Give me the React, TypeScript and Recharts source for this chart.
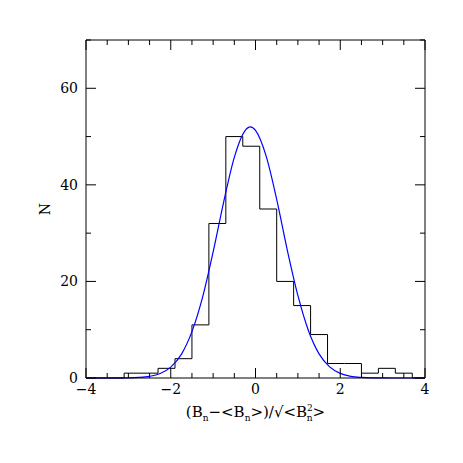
import React from 'react';
import { LineChart, Line, XAxis, YAxis } from 'recharts';

// histogram: left bin edges and counts (stepAfter)
const binEdges = [-4, -3.1, -2.7, -2.3, -1.9, -1.5, -1.1, -0.7, -0.3, 0.1, 0.5, 0.9, 1.3, 1.7, 2.1, 2.5, 2.9, 3.3, 3.7, 4];
const binCounts = [0, 1, 1, 2, 4, 11, 32, 50, 48, 35, 20, 15, 9, 3, 3, 1, 2, 1, 0, 0];

// fitted curve
const fitX = [-4, -3.5, -3, -2.75, -2.5, -2.25, -2, -1.75, -1.5, -1.25, -1, -0.75, -0.5, -0.25, -0.12, 0, 0.25, 0.5, 0.75, 1, 1.25, 1.5, 1.75, 2, 2.25, 2.5, 2.75, 3, 3.5, 4];
const fitY = [0, 0, 0.03, 0.11, 0.34, 0.92, 2.25, 4.9, 9.6, 16.7, 26.1, 36.5, 45.7, 51.2, 52, 51.3, 46.0, 37.0, 26.5, 17.1, 9.8, 5.0, 2.3, 0.96, 0.35, 0.12, 0.03, 0.01, 0, 0];

const xTicks = [-4, -3.5, -3, -2.5, -2, -1.5, -1, -0.5, 0, 0.5, 1, 1.5, 2, 2.5, 3, 3.5, 4];
const xLabels = [-4, -2, 0, 2, 4];
const yTicks = [0, 10, 20, 30, 40, 50, 60, 70];
const yLabels = [0, 20, 40, 60];

const histData = binEdges.map((x, i) => ({ x, y: binCounts[i] }));
const fitData = fitX.map((x, i) => ({ x, y: fitY[i] }));

const W = 455;
const H = 455;
const M = { top: 31, right: 37, bottom: 45, left: 0 };
const TOP_AXIS_H = 1;
const BOTTOM_AXIS_H = 40;
const PLOT_H = H - M.top - M.bottom - TOP_AXIS_H - BOTTOM_AXIS_H;

const FONT = '"DejaVu Serif", serif';
const fmt = (v: number) => (v < 0 ? '\u2212' + Math.abs(v) : String(v));

const BottomTick = (props: any) => {
  const { x, y, payload } = props;
  const major = xLabels.includes(payload.value);
  if (!major) return <g />;
  return (
    <text x={x} y={y + 16} textAnchor="middle" fontSize={14} fontFamily={FONT} fill="#000">
      {fmt(payload.value)}
    </text>
  );
};

// inward ticks for both the top and bottom edges of the frame
const TopTick = (props: any) => {
  const { x, y, payload } = props;
  const len = xLabels.includes(payload.value) ? 10 : 5;
  const yt = Number(y);
  const yb = yt + PLOT_H;
  return (
    <g>
      <line x1={x} y1={yt} x2={x} y2={yt + len} stroke="#000" />
      <line x1={x} y1={yb} x2={x} y2={yb - len} stroke="#000" />
    </g>
  );
};

const LeftTick = (props: any) => {
  const { x, y, payload } = props;
  const major = yLabels.includes(payload.value);
  return (
    <g>
      <line x1={x} y1={y} x2={x + (major ? 10 : 5)} y2={y} stroke="#000" />
      {major && (
        <text x={x - 8} y={y + 5} textAnchor="end" fontSize={14} fontFamily={FONT} fill="#000">
          {payload.value}
        </text>
      )}
    </g>
  );
};

const RightTick = (props: any) => {
  const { x, y, payload } = props;
  const major = yLabels.includes(payload.value);
  return <line x1={x} y1={y} x2={x - (major ? 10 : 5)} y2={y} stroke="#000" />;
};

const XTitle = (props: any) => {
  const vb = props.viewBox;
  const cx = vb.x + vb.width / 2;
  return (
    <text x={cx} y={vb.y + 39} textAnchor="middle" fontSize={15} fontFamily={FONT} fill="#000">
      <tspan>(B</tspan>
      <tspan dy={4} fontSize={9}>n</tspan>
      <tspan dy={-4}>{'\u2212<B'}</tspan>
      <tspan dy={4} fontSize={9}>n</tspan>
      <tspan dy={-4}>{'>)/\u221A<B'}</tspan>
      <tspan dy={-6} fontSize={9}>2</tspan>
      <tspan dx={-6} dy={10} fontSize={9}>n</tspan>
      <tspan dy={-4}>{'>'}</tspan>
    </text>
  );
};

const YTitle = (props: any) => {
  const vb = props.viewBox;
  const x = vb.x + 42;
  const y = vb.y + vb.height / 2;
  return (
    <text x={x} y={y} textAnchor="middle" fontSize={14} fontFamily={FONT} fill="#000" transform={`rotate(-90 ${x} ${y})`}>
      N
    </text>
  );
};

export default function App() {
  return (
    <LineChart width={W} height={H} margin={M}>
      <XAxis
        xAxisId="top"
        orientation="top"
        dataKey="x"
        type="number"
        domain={[-4, 4]}
        ticks={xTicks}
        interval={0}
        tickSize={0}
        tickMargin={0}
        tick={<TopTick />}
        axisLine={{ stroke: '#000' }}
        height={TOP_AXIS_H}
      />
      <YAxis
        yAxisId="right"
        orientation="right"
        type="number"
        domain={[0, 70]}
        ticks={yTicks}
        interval={0}
        tickSize={0}
        tickMargin={0}
        tick={<RightTick />}
        axisLine={{ stroke: '#000' }}
        width={1}
      />
      <YAxis
        type="number"
        domain={[0, 70]}
        ticks={yTicks}
        interval={0}
        tickSize={0}
        tickMargin={0}
        tick={<LeftTick />}
        axisLine={{ stroke: '#000' }}
        width={78}
        label={<YTitle />}
      />
      <XAxis
        dataKey="x"
        type="number"
        domain={[-4, 4]}
        ticks={xTicks}
        interval={0}
        tickSize={0}
        tickMargin={0}
        tick={<BottomTick />}
        axisLine={{ stroke: '#000' }}
        height={BOTTOM_AXIS_H}
        label={<XTitle />}
      />
      <Line
        data={histData}
        dataKey="y"
        xAxisId="top"
        yAxisId="right"
        type="stepAfter"
        stroke="#000"
        strokeWidth={1}
        dot={false}
        isAnimationActive={false}
      />
      <Line
        data={fitData}
        dataKey="y"
        type="monotone"
        stroke="#0000ff"
        strokeWidth={1.2}
        dot={false}
        isAnimationActive={false}
      />
    </LineChart>
  );
}
